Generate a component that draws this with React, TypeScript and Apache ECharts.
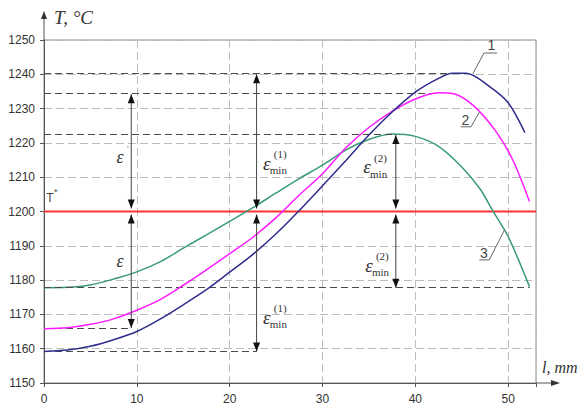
import React, { useEffect, useRef } from 'react';
import * as echarts from 'echarts';

// Curve 1 (navy)
const curve1X = [0, 2.5, 5, 7.5, 10, 12.5, 15, 17.5, 20, 22.5, 25, 27.5, 30, 32.5, 35, 37.5, 40, 42.5, 44, 45.5, 48, 50, 51.8];
const curve1T = [1159.2, 1159.6, 1160.7, 1162.6, 1165, 1168.6, 1172.8, 1177.2, 1182.3, 1187.5, 1193.5, 1200.3, 1207.5, 1214.8, 1222.3, 1229, 1234.8, 1238.8, 1240.3, 1240.3, 1236.4, 1231.7, 1223];
// Curve 2 (magenta)
const curve2X = [0, 2.5, 5, 7.5, 10, 12.5, 15, 17.5, 20, 22.5, 25, 27.5, 30, 32.5, 35, 37.5, 40, 42.5, 44, 46.2, 48.7, 50.5, 52.3];
const curve2T = [1165.8, 1166.1, 1167.1, 1168.7, 1171.2, 1174.3, 1178.5, 1183, 1187.7, 1192.5, 1198.2, 1204.8, 1211, 1218.5, 1224.5, 1229.2, 1232.8, 1234.6, 1234.4, 1231, 1223.3, 1215, 1202.9];
// Curve 3 (green)
const curve3X = [0, 2.5, 5, 7.5, 10, 12.5, 15, 17.5, 20, 22.5, 25, 27.5, 30, 32.5, 35, 37.5, 40, 42.5, 45, 47, 48.3, 50, 52.3];
const curve3T = [1177.8, 1177.9, 1178.6, 1180.3, 1182.4, 1185.3, 1189.3, 1193.2, 1197.1, 1201.1, 1205.4, 1209.6, 1213.5, 1217.9, 1221, 1222.6, 1221.9, 1219, 1213, 1206.5, 1200.4, 1192.7, 1178.1];

const tStar = 1200;
const xMin = 0;
const xMax = 53;
const xStep = 10;
const yMin = 1150;
const yMax = 1250;
const yStep = 10;

// dashed reference levels (from x=0 to end)
const refLevels = [1240.3, 1234.5, 1222.6, 1177.8, 1166, 1159.2];
const refEnds = [45, 42.5, 37.6, 52.3, 9.4, 22.9];

// double arrows
const arrowX = [9.4, 9.4, 22.9, 22.9, 37.9, 37.9];
const arrowTop = [1234.5, 1200, 1240.3, 1200, 1222.6, 1200];
const arrowBottom = [1200, 1166, 1200, 1159.2, 1200, 1177.8];

// ε labels
const epsX = [8.2, 8.2];
const epsT = [1215.9, 1185.6];
const epsMark = ["'", ''];

// ε_min labels
const epsMinX = [24.0, 24.0, 34.8, 35.0];
const epsMinT = [1214.1, 1169.2, 1213, 1184.4];
const epsMinSup = ['(1)', '(1)', '(2)', '(2)'];

// curve number labels and leaders
const curveNames = ['1', '2', '3'];
const curveLabelX = [48.2, 45.4, 47.4];
const curveLabelT = [1248.5, 1226.8, 1187.8];
const leaderAX = [48.8, 44.9, 46.9];
const leaderBX = [47.4, 46.0, 47.96];
const leaderABT = [1246.2, 1224.7, 1185.9];
const leaderCX = [46.2, 46.9, 49.6];
const leaderCT = [1240.2, 1229, 1194.6];

const tStarLabelX = 0.65;
const tStarLabelT = 1203.9;

const SERIF = '"Liberation Serif", "Times New Roman", serif';
const SANS = '"Liberation Sans", Arial, sans-serif';

function zip(xs: number[], ys: number[]) {
  return xs.map((x, i) => [x, ys[i]]);
}

export default function App() {
  const ref = useRef<HTMLDivElement>(null);
  useEffect(() => {
    const chart = echarts.init(ref.current!, null, { renderer: 'svg' });
    const gridLine = { show: true, lineStyle: { color: '#bdbdbd', type: [8, 4] as any, width: 1 } };
    chart.setOption({
      animation: false,
      backgroundColor: '#fff',
      grid: { left: 44, top: 40, right: 43, bottom: 25, show: true, borderColor: '#8a8a8a', borderWidth: 1, containLabel: false },
      xAxis: {
        type: 'value', min: xMin, max: xMax, interval: xStep,
        axisLine: { show: true, lineStyle: { color: '#555', width: 1 } },
        axisTick: { show: true, length: 4, lineStyle: { color: '#555' } },
        axisLabel: { color: '#333', fontSize: 12, fontFamily: SANS, margin: 10, formatter: (v: number) => (v % 10 === 0 ? String(v) : '') },
        splitLine: gridLine,
      },
      yAxis: {
        type: 'value', min: yMin, max: yMax, interval: yStep,
        axisLine: { show: true, lineStyle: { color: '#555', width: 1 } },
        axisTick: { show: true, length: 4, lineStyle: { color: '#555' } },
        axisLabel: { color: '#333', fontSize: 12, fontFamily: SANS, margin: 9, formatter: (v: number) => String(v) },
        splitLine: gridLine,
      },
      series: [
        {
          type: 'line', data: [[xMin, tStar], [xMax, tStar]], showSymbol: false, silent: true,
          lineStyle: { color: '#ff3333', width: 2 }, z: 3,
          markLine: {
            silent: true, symbol: ['none', 'none'], label: { show: false },
            lineStyle: { color: '#4a4a4a', type: [7, 4] as any, width: 1 },
            data: refLevels.map((lv, i) => [{ coord: [xMin, lv] }, { coord: [refEnds[i], lv] }]),
          },
        },
        { type: 'line', data: zip(curve3X, curve3T), smooth: 0.3, showSymbol: false, lineStyle: { color: '#3a9a78', width: 1.5 }, z: 4 },
        { type: 'line', data: zip(curve2X, curve2T), smooth: 0.3, showSymbol: false, lineStyle: { color: '#ff1aff', width: 1.5 }, z: 5 },
        { type: 'line', data: zip(curve1X, curve1T), smooth: 0.3, showSymbol: false, lineStyle: { color: '#2e2d8c', width: 1.5 }, z: 6 },
      ],
    });

    const px = (x: number, y: number) => chart.convertToPixel({ gridIndex: 0 }, [x, y]) as number[];
    const g: any[] = [];
    const txt = (text: string, x: number, y: number, font: string, align: string, fill = '#333') => ({
      type: 'text', z: 100, silent: true,
      style: { text, x, y, font, fill, align, textAlign: align, verticalAlign: 'middle', textVerticalAlign: 'middle' },
    });

    // axis extensions with arrowheads
    const o = px(xMin, yMin);
    const yt = px(xMin, yMax);
    const xr = px(xMax, yMin);
    g.push({ type: 'line', z: 100, shape: { x1: yt[0], y1: yt[1], x2: yt[0], y2: 18 }, style: { stroke: '#555', lineWidth: 1 } });
    g.push({ type: 'polygon', z: 100, shape: { points: [[yt[0], 11], [yt[0] - 3, 19], [yt[0] + 3, 19]] }, style: { fill: '#333' } });
    g.push({ type: 'line', z: 100, shape: { x1: xr[0], y1: o[1], x2: 552, y2: o[1] }, style: { stroke: '#555', lineWidth: 1 } });
    g.push({ type: 'polygon', z: 100, shape: { points: [[560, o[1]], [551, o[1] - 3], [551, o[1] + 3]] }, style: { fill: '#333' } });

    // axis titles
    g.push(txt('T, °C', yt[0] + 10, 17, `italic 19px ${SERIF}`, 'left', '#333'));
    g.push(txt('l, mm', 542, o[1] - 16, `italic 16px ${SERIF}`, 'left', '#333'));

    // double arrows
    arrowX.forEach((ax, i) => {
      const a = px(ax, arrowTop[i]);
      const b = px(ax, arrowBottom[i]);
      const topTip = a[1] + (arrowTop[i] === tStar ? 3 : 1);
      const botTip = b[1] - (arrowBottom[i] === tStar ? 3 : 0);
      g.push({ type: 'line', z: 100, shape: { x1: a[0], y1: topTip, x2: a[0], y2: botTip }, style: { stroke: '#444', lineWidth: 1 } });
      g.push({ type: 'polygon', z: 101, shape: { points: [[a[0], topTip], [a[0] - 3.5, topTip + 9], [a[0] + 3.5, topTip + 9]] }, style: { fill: '#111' } });
      g.push({ type: 'polygon', z: 101, shape: { points: [[a[0], botTip], [a[0] - 3.5, botTip - 9], [a[0] + 3.5, botTip - 9]] }, style: { fill: '#111' } });
    });

    // ε labels
    epsX.forEach((ex, i) => {
      const p = px(ex, epsT[i]);
      g.push(txt('ε', p[0], p[1], `italic 18px ${SERIF}`, 'center'));
      if (epsMark[i]) g.push(txt(epsMark[i], p[0] + 7, p[1] - 8, `9px ${SERIF}`, 'left', '#666'));
    });

    // ε_min labels
    epsMinX.forEach((ex, i) => {
      const p = px(ex, epsMinT[i]);
      g.push(txt('ε', p[0], p[1], `italic 19px ${SERIF}`, 'center'));
      g.push(txt(epsMinSup[i], p[0] + 7, p[1] - 9, `11px ${SERIF}`, 'left'));
      g.push(txt('min', p[0] + 3, p[1] + 7, `11px ${SERIF}`, 'left'));
    });

    // curve numbers with leaders
    curveNames.forEach((nm, i) => {
      const t = px(curveLabelX[i], curveLabelT[i]);
      g.push(txt(nm, t[0], t[1], `14px ${SANS}`, 'center', '#444'));
      const a = px(leaderAX[i], leaderABT[i]);
      const b = px(leaderBX[i], leaderABT[i]);
      const c = px(leaderCX[i], leaderCT[i]);
      g.push({ type: 'polyline', z: 100, shape: { points: [a, b, c] }, style: { stroke: '#666', lineWidth: 1, fill: null } });
    });

    // T* label
    const ts = px(tStarLabelX, tStarLabelT);
    g.push(txt('T', ts[0], ts[1], `12px ${SANS}`, 'center', '#444'));
    g.push(txt('*', ts[0] + 4, ts[1] - 6, `9px ${SANS}`, 'left', '#444'));

    chart.setOption({ graphic: g });
    return () => chart.dispose();
  }, []);
  return <div ref={ref} style={{ position: 'absolute', left: 0, top: 0, width: 579, height: 408 }} />;
}
